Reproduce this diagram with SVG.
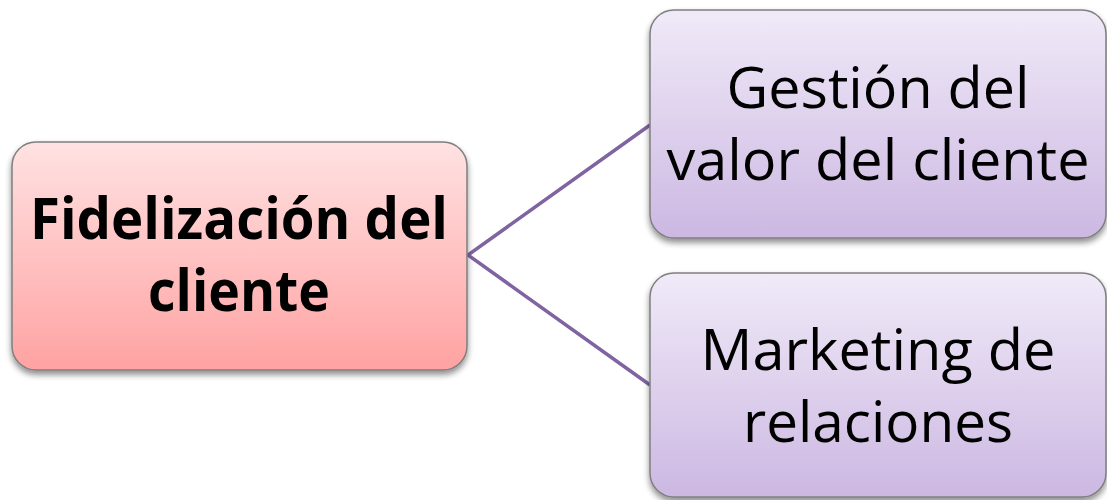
<svg xmlns="http://www.w3.org/2000/svg" width="1107" height="500" viewBox="0 0 1107 500">
<defs>
<linearGradient id="gRed" x1="0" y1="0" x2="0" y2="1">
<stop offset="0" stop-color="#FFE2E2"/>
<stop offset="1" stop-color="#FFA2A2"/>
</linearGradient>
<linearGradient id="gPur" x1="0" y1="0" x2="0" y2="1">
<stop offset="0" stop-color="#F0EAF8"/>
<stop offset="1" stop-color="#CCB8E2"/>
</linearGradient>
<filter id="sh" x="-10%" y="-10%" width="120%" height="130%">
<feGaussianBlur in="SourceAlpha" stdDeviation="3"/>
<feOffset dy="4" result="b"/>
<feComponentTransfer><feFuncA type="linear" slope="0.45"/></feComponentTransfer>
<feMerge><feMergeNode/><feMergeNode in="SourceGraphic"/></feMerge>
</filter>
</defs>
<style>
.box{stroke:#7F7F7F;stroke-width:1.5;filter:url(#sh)}
.t{font-family:"Open Sans","Noto Sans","Liberation Sans",sans-serif;fill:#000;text-anchor:middle}
.conn{stroke:#8064A2;stroke-width:3.5;fill:none}
</style>
<g id="connectors">
<path class="conn" d="M650,125 L468,255 L650,385"/>
</g>
<g id="node-fidelizacion">
<rect class="box" x="12" y="142" width="455" height="228" rx="24" fill="url(#gRed)"/>
<text class="t" x="239" y="239" font-size="58" font-weight="bold" textLength="418" lengthAdjust="spacingAndGlyphs">Fidelización del</text>
<text class="t" x="239" y="311" font-size="58" font-weight="bold" textLength="182" lengthAdjust="spacingAndGlyphs">cliente</text>
</g>
<g id="node-gestion">
<rect class="box" x="650" y="10" width="456" height="228" rx="24" fill="url(#gPur)"/>
<text class="t" x="878" y="108" font-size="57" textLength="303" lengthAdjust="spacingAndGlyphs">Gestión del</text>
<text class="t" x="878" y="180" font-size="57" textLength="423" lengthAdjust="spacingAndGlyphs">valor del cliente</text>
</g>
<g id="node-marketing">
<rect class="box" x="650" y="273" width="456" height="224" rx="24" fill="url(#gPur)"/>
<text class="t" x="878" y="370" font-size="57" textLength="355" lengthAdjust="spacingAndGlyphs">Marketing de</text>
<text class="t" x="878" y="442" font-size="57" textLength="270" lengthAdjust="spacingAndGlyphs">relaciones</text>
</g>
</svg>
